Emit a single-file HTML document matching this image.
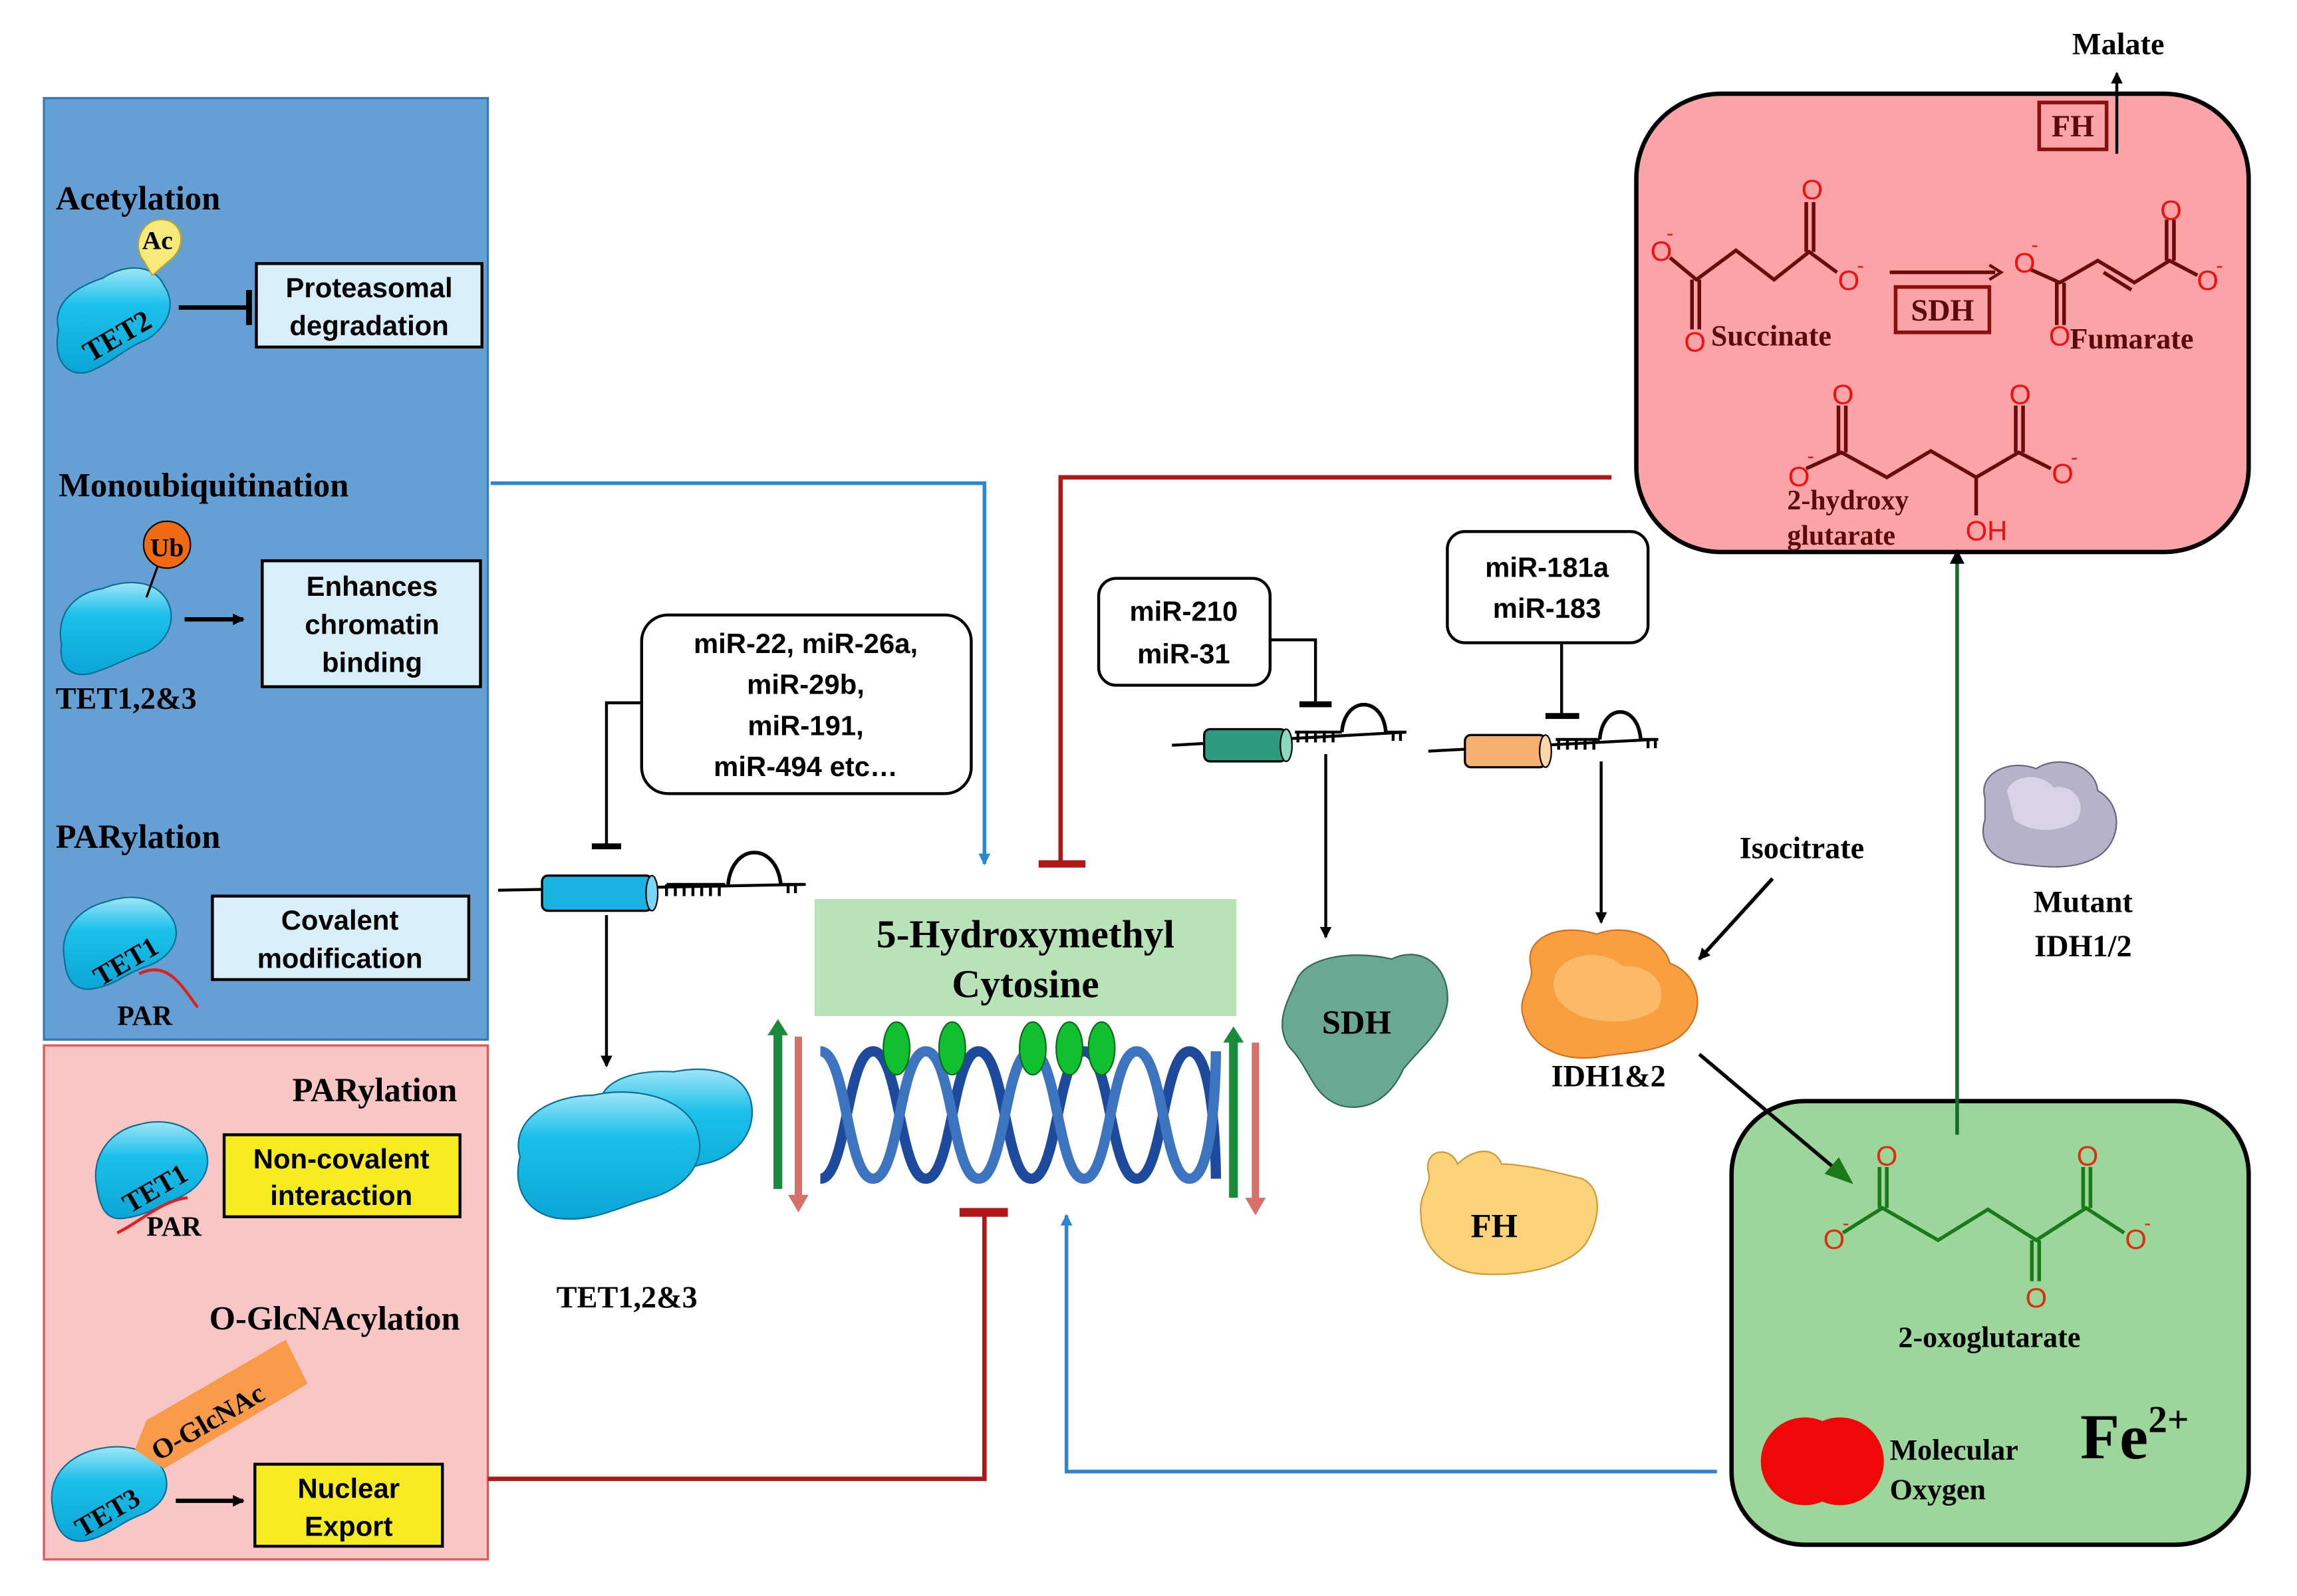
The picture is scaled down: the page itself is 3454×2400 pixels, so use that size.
<!DOCTYPE html>
<html><head><meta charset="utf-8"><style>html,body{margin:0;padding:0;background:#fff}svg{display:block}
.s{font-family:"Liberation Serif",serif;font-weight:bold}
.a{font-family:"Liberation Sans",sans-serif;font-weight:bold}
</style></head><body>
<svg width="3454" height="2400" viewBox="0 0 1568 1090" preserveAspectRatio="none" xmlns="http://www.w3.org/2000/svg">
<defs>
<marker id="ak" markerWidth="8" markerHeight="8" refX="7" refY="4" orient="auto" markerUnits="userSpaceOnUse"><path d="M0,0 L8,4 L0,8Z" fill="#000"/></marker>
<marker id="ab" markerWidth="8" markerHeight="8" refX="7" refY="4" orient="auto" markerUnits="userSpaceOnUse"><path d="M0,0 L8,4 L0,8Z" fill="#2e86d0"/></marker>
<linearGradient id="cy" x1="0" y1="0" x2="0" y2="1"><stop offset="0" stop-color="#9fe6f7"/><stop offset="0.35" stop-color="#1cc0ea"/><stop offset="1" stop-color="#0aa6d6"/></linearGradient>
</defs>

<rect x="30" y="67" width="303" height="643" fill="#64a0d4" stroke="#3a78b5" stroke-width="1.5"/>
<rect x="30" y="714" width="303" height="351" fill="#f8c6c4" stroke="#e05858" stroke-width="1.5"/>
<rect x="1117" y="64" width="418" height="313" rx="58" fill="#fba4a8" stroke="#000" stroke-width="3"/>
<rect x="1182" y="752" width="353" height="303" rx="50" fill="#9cd69b" stroke="#000" stroke-width="3"/>

<polyline points="335,330 672,330 672,590" fill="none" stroke="#2e86d0" stroke-width="2.5" marker-end="url(#ab)"/>
<polyline points="1100,326 724,326 724,590" fill="none" stroke="#b01818" stroke-width="3"/>
<line x1="709" y1="590" x2="741" y2="590" stroke="#b01818" stroke-width="5"/>
<polyline points="333,1010 672,1010 672,828" fill="none" stroke="#b01818" stroke-width="3"/>
<line x1="655" y1="828" x2="688" y2="828" stroke="#b01818" stroke-width="6"/>
<polyline points="1172,1005 728,1005 728,830" fill="none" stroke="#2e86d0" stroke-width="2.5" marker-end="url(#ab)"/>

<text x="38" y="143" class="s" font-size="23">Acetylation</text>
<path d="M40,225 C35,205 55,195 70,190 C85,180 105,180 112,195 C122,210 112,225 100,232 C85,238 80,245 65,252 C50,260 35,250 40,225Z" fill="url(#cy)" stroke="#0a6e96" stroke-width="1"/>
<text x="52" y="238" class="s" font-size="20" transform="rotate(-30 75 225)">TET2</text>
<path d="M98,178 C90,168 96,150 110,150 C124,150 128,166 118,176 L104,188Z" fill="#f5ea7a" stroke="#b8a830"/>
<text x="97" y="170" class="s" font-size="18">Ac</text>
<line x1="122" y1="210" x2="170" y2="210" stroke="#000" stroke-width="3"/>
<line x1="170" y1="198" x2="170" y2="222" stroke="#000" stroke-width="4"/>
<rect x="175" y="180" width="154" height="57" fill="#d8eef8" stroke="#000" stroke-width="2"/>
<text x="252" y="203" class="a" font-size="19" text-anchor="middle">Proteasomal</text>
<text x="252" y="229" class="a" font-size="19" text-anchor="middle">degradation</text>

<text x="40" y="339" class="s" font-size="23">Monoubiquitination</text>
<path d="M42,440 C38,420 50,405 70,402 C85,396 105,395 114,410 C122,425 112,440 100,445 C85,450 78,455 62,460 C48,463 40,455 42,440Z" fill="url(#cy)" stroke="#0a6e96" stroke-width="1"/>
<line x1="100" y1="408" x2="110" y2="380" stroke="#000" stroke-width="1.5"/>
<circle cx="114" cy="372" r="16" fill="#f06a14" stroke="#000"/>
<text x="114" y="380" class="s" font-size="18" text-anchor="middle">Ub</text>
<line x1="126" y1="423" x2="166" y2="423" stroke="#000" stroke-width="3" marker-end="url(#ak)"/>
<rect x="179" y="383" width="149" height="86" fill="#d8eef8" stroke="#000" stroke-width="2"/>
<text x="254" y="407" class="a" font-size="19" text-anchor="middle">Enhances</text>
<text x="254" y="433" class="a" font-size="19" text-anchor="middle">chromatin</text>
<text x="254" y="459" class="a" font-size="19" text-anchor="middle">binding</text>
<text x="38" y="484" class="s" font-size="21">TET1,2&amp;3</text>

<text x="38" y="579" class="s" font-size="23">PARylation</text>
<path d="M44,655 C40,635 55,620 72,616 C90,610 108,612 118,628 C125,642 115,655 100,660 C85,665 80,672 65,675 C50,678 45,668 44,655Z" fill="url(#cy)" stroke="#0a6e96" stroke-width="1"/>
<text x="58" y="665" class="s" font-size="19" transform="rotate(-30 80 650)">TET1</text>
<path d="M95,665 C115,655 125,675 135,688" fill="none" stroke="#e02020" stroke-width="2"/>
<text x="80" y="700" class="s" font-size="19">PAR</text>
<rect x="145" y="612" width="175" height="57" fill="#d8eef8" stroke="#000" stroke-width="2"/>
<text x="232" y="635" class="a" font-size="19" text-anchor="middle">Covalent</text>
<text x="232" y="661" class="a" font-size="19" text-anchor="middle">modification</text>

<text x="312" y="752" class="s" font-size="23" text-anchor="end">PARylation</text>
<path d="M66,810 C62,790 75,772 95,768 C112,763 132,768 140,784 C146,800 135,812 122,818 C108,824 100,830 85,832 C72,834 68,824 66,810Z" fill="url(#cy)" stroke="#0a6e96" stroke-width="1"/>
<text x="78" y="820" class="s" font-size="19" transform="rotate(-30 100 805)">TET1</text>
<path d="M80,842 C95,835 110,820 128,818" fill="none" stroke="#e02020" stroke-width="2"/>
<text x="100" y="844" class="s" font-size="19">PAR</text>
<rect x="153" y="775" width="161" height="56" fill="#f6ea20" stroke="#000" stroke-width="2"/>
<text x="233" y="798" class="a" font-size="19" text-anchor="middle">Non-covalent</text>
<text x="233" y="823" class="a" font-size="19" text-anchor="middle">interaction</text>

<text x="314" y="908" class="s" font-size="23" text-anchor="end">O-GlcNAcylation</text>
<path d="M36,1030 C32,1010 45,995 65,990 C85,985 105,990 112,1005 C118,1020 108,1030 95,1035 C82,1040 75,1048 60,1052 C45,1055 38,1045 36,1030Z" fill="url(#cy)" stroke="#0a6e96" stroke-width="1"/>
<text x="45" y="1040" class="s" font-size="19" transform="rotate(-30 70 1025)">TET3</text>
<path d="M92,990 L100,970 L195,915 L210,945 L112,1003Z" fill="#f89a4a"/>
<text x="108" y="998" class="s" font-size="19" transform="rotate(-30 108 998)">O-GlcNAc</text>
<line x1="120" y1="1025" x2="166" y2="1025" stroke="#000" stroke-width="3" marker-end="url(#ak)"/>
<rect x="174" y="1000" width="128" height="56" fill="#f6ea20" stroke="#000" stroke-width="2"/>
<text x="238" y="1023" class="a" font-size="19" text-anchor="middle">Nuclear</text>
<text x="238" y="1049" class="a" font-size="19" text-anchor="middle">Export</text>

<rect x="438" y="420" width="225" height="122" rx="18" fill="#fff" stroke="#000" stroke-width="2"/>
<text x="550" y="446" class="a" font-size="19" text-anchor="middle">miR-22, miR-26a,</text>
<text x="550" y="474" class="a" font-size="19" text-anchor="middle">miR-29b,</text>
<text x="550" y="502" class="a" font-size="19" text-anchor="middle">miR-191,</text>
<text x="550" y="530" class="a" font-size="19" text-anchor="middle">miR-494 etc…</text>
<polyline points="437,480 414,480 414,578" fill="none" stroke="#000" stroke-width="2"/>
<line x1="404" y1="578" x2="424" y2="578" stroke="#000" stroke-width="4"/>
<line x1="340" y1="608" x2="550" y2="604" stroke="#000" stroke-width="2"/>
<rect x="370" y="598" width="75" height="24" rx="4" fill="#1ab4e4" stroke="#000" stroke-width="1.5"/>
<ellipse cx="445" cy="610" rx="4" ry="12" fill="#7ad6f2" stroke="#000"/>
<path d="M455,604 v8 M461,604 v8 M467,604 v8 M473,604 v8 M479,604 v8 M485,604 v8 M491,604 v8 M455,604 h40" stroke="#000" stroke-width="2" fill="none"/>
<path d="M497,604 C500,575 530,575 533,604" fill="none" stroke="#000" stroke-width="2.5"/>
<path d="M533,604 h15 M538,604 v6 M543,604 v6" stroke="#000" stroke-width="2"/>
<line x1="414" y1="625" x2="414" y2="728" stroke="#000" stroke-width="2" marker-end="url(#ak)"/>

<path d="M410,760 C405,740 430,730 460,732 C480,728 505,730 512,750 C518,770 505,790 480,795 C460,800 445,810 420,812 C400,812 395,790 410,760Z" fill="url(#cy)" stroke="#0a6e96"/>
<path d="M355,790 C348,765 375,748 405,748 C430,742 465,748 475,770 C485,795 465,812 445,818 C420,825 405,835 380,832 C358,828 350,810 355,790Z" fill="url(#cy)" stroke="#0a6e96"/>
<text x="428" y="893" class="s" font-size="21" text-anchor="middle">TET1,2&amp;3</text>

<rect x="556" y="614" width="288" height="80" fill="#b8e2b8"/>
<text x="700" y="647" class="s" font-size="27" text-anchor="middle">5-Hydroxymethyl</text>
<text x="700" y="681" class="s" font-size="27" text-anchor="middle">Cytosine</text>
<path d="M560,805 C578,805 578,718 596,718 S614,805 632,805 S650,718 668,718 S686,805 704,805 S722,718 740,718 S758,805 776,805 S794,718 812,718 S830,805 830,805" fill="none" stroke="#1e4a9e" stroke-width="7"/>
<path d="M560,718 C578,718 578,805 596,805 S614,718 632,718 S650,805 668,805 S686,718 704,718 S722,805 740,805 S758,718 776,718 S794,805 812,805 S830,718 830,718" fill="none" stroke="#3d74c0" stroke-width="7"/>
<g fill="#10c030" stroke="#0a6a1a" stroke-width="1">
<ellipse cx="612" cy="716" rx="9" ry="18"/><ellipse cx="650" cy="716" rx="9" ry="18"/><ellipse cx="705" cy="716" rx="9" ry="18"/><ellipse cx="730" cy="716" rx="9" ry="18"/><ellipse cx="752" cy="716" rx="9" ry="18"/>
</g>
<line x1="531" y1="812" x2="531" y2="705" stroke="#1a8a3a" stroke-width="6"/><path d="M524,707 L531,696 L538,707Z" fill="#1a8a3a"/>
<line x1="545" y1="708" x2="545" y2="818" stroke="#d8706a" stroke-width="5"/><path d="M538,816 L545,828 L552,816Z" fill="#d8706a"/>
<line x1="842" y1="818" x2="842" y2="710" stroke="#1a8a3a" stroke-width="6"/><path d="M835,712 L842,701 L849,712Z" fill="#1a8a3a"/>
<line x1="857" y1="712" x2="857" y2="820" stroke="#d8706a" stroke-width="5"/><path d="M850,818 L857,830 L864,818Z" fill="#d8706a"/>

<rect x="750" y="395" width="117" height="73" rx="12" fill="#fff" stroke="#000" stroke-width="2"/>
<text x="808" y="424" class="a" font-size="19" text-anchor="middle">miR-210</text>
<text x="808" y="453" class="a" font-size="19" text-anchor="middle">miR-31</text>
<polyline points="867,437 898,437 898,480" fill="none" stroke="#000" stroke-width="2"/>
<line x1="887" y1="481" x2="909" y2="481" stroke="#000" stroke-width="4"/>
<line x1="800" y1="509" x2="960" y2="500" stroke="#000" stroke-width="2"/>
<rect x="822" y="498" width="56" height="22" rx="4" fill="#2e9a7e" stroke="#000" stroke-width="1.5"/>
<ellipse cx="878" cy="509" rx="4" ry="11" fill="#8ad8c0" stroke="#000"/>
<path d="M884,500 h32 M886,500 v7 M892,500 v7 M898,500 v7 M904,500 v7 M910,500 v7" stroke="#000" stroke-width="2" fill="none"/>
<path d="M916,500 C918,475 944,475 946,500" fill="none" stroke="#000" stroke-width="2.5"/>
<path d="M946,500 h14 M951,500 v6 M956,500 v6" stroke="#000" stroke-width="2"/>
<line x1="905" y1="515" x2="905" y2="640" stroke="#000" stroke-width="2" marker-end="url(#ak)"/>

<rect x="988" y="363" width="137" height="76" rx="12" fill="#fff" stroke="#000" stroke-width="2"/>
<text x="1056" y="394" class="a" font-size="19" text-anchor="middle">miR-181a</text>
<text x="1056" y="422" class="a" font-size="19" text-anchor="middle">miR-183</text>
<line x1="1066" y1="440" x2="1066" y2="488" stroke="#000" stroke-width="2"/>
<line x1="1055" y1="489" x2="1078" y2="489" stroke="#000" stroke-width="4"/>
<line x1="975" y1="513" x2="1130" y2="505" stroke="#000" stroke-width="2"/>
<rect x="1000" y="502" width="55" height="22" rx="4" fill="#f8b070" stroke="#000" stroke-width="1.5"/>
<ellipse cx="1055" cy="513" rx="4" ry="11" fill="#fcd6a8" stroke="#000"/>
<path d="M1062,505 h30 M1064,505 v7 M1070,505 v7 M1076,505 v7 M1082,505 v7 M1088,505 v7" stroke="#000" stroke-width="2" fill="none"/>
<path d="M1092,505 C1094,480 1118,480 1120,505" fill="none" stroke="#000" stroke-width="2.5"/>
<path d="M1120,505 h12 M1125,505 v6 M1130,505 v6" stroke="#000" stroke-width="2"/>
<line x1="1093" y1="520" x2="1093" y2="630" stroke="#000" stroke-width="2" marker-end="url(#ak)"/>

<path d="M885,670 C890,655 920,648 950,655 C970,645 990,660 988,685 C985,705 970,715 958,730 C950,748 935,760 915,755 C895,748 895,730 880,715 C870,700 878,685 885,670Z" fill="#6aa894" stroke="#2e6a58"/>
<text x="926" y="706" class="s" font-size="23" text-anchor="middle">SDH</text>
<path d="M975,800 C972,785 990,782 995,795 C1005,785 1020,782 1025,795 C1040,795 1060,800 1080,805 C1095,812 1092,835 1082,850 C1070,865 1040,872 1010,870 C985,868 970,850 970,830 C968,815 978,810 975,800Z" fill="#fcd27a" stroke="#d09a30"/>
<text x="1020" y="845" class="s" font-size="23" text-anchor="middle">FH</text>
<path d="M1045,660 C1040,640 1065,630 1090,638 C1110,630 1135,640 1140,658 C1160,665 1165,690 1150,705 C1135,720 1110,718 1090,722 C1065,725 1045,715 1040,695 C1035,680 1048,672 1045,660Z" fill="#f8a040" stroke="#d07020"/>
<path d="M1062,665 C1070,650 1095,648 1108,660 C1125,658 1140,672 1132,688 C1120,700 1090,700 1075,692 C1062,685 1058,675 1062,665Z" fill="#fcc070" opacity="0.8"/>
<text x="1098" y="742" class="s" font-size="21" text-anchor="middle">IDH1&amp;2</text>
<text x="1230" y="586" class="s" font-size="21" text-anchor="middle">Isocitrate</text>
<line x1="1210" y1="600" x2="1160" y2="655" stroke="#000" stroke-width="2.5" marker-end="url(#ak)"/>
<path d="M1355,545 C1350,528 1372,518 1390,525 C1405,515 1430,522 1432,540 C1450,550 1448,575 1432,585 C1415,595 1395,592 1378,590 C1360,588 1350,575 1355,560Z" fill="#b6b2c8" stroke="#6a6680"/>
<path d="M1370,540 C1375,528 1395,528 1402,538 C1415,535 1425,548 1418,560 C1405,570 1385,568 1375,560Z" fill="#d8d4e6"/>
<text x="1422" y="623" class="s" font-size="21" text-anchor="middle">Mutant</text>
<text x="1422" y="653" class="s" font-size="21" text-anchor="middle">IDH1/2</text>

<line x1="1160" y1="720" x2="1262" y2="806" stroke="#000" stroke-width="2.5"/>
<path d="M1262,806 L1248,801 L1255,793Z" fill="#1a7a1a" stroke="#1a7a1a" stroke-width="3"/>
<line x1="1336" y1="775" x2="1336" y2="382" stroke="#1a6a2a" stroke-width="2.5"/>
<path d="M1331,385 L1336,375 L1341,385Z" fill="#000"/>

<g fill="none" stroke="#6a0a0a" stroke-width="2.5">
<polyline points="1140,176 1158,191 1185,171 1211,191 1235,172 1254,186"/>
<line x1="1233" y1="172" x2="1233" y2="138"/><line x1="1238" y1="172" x2="1238" y2="138"/>
<line x1="1155" y1="191" x2="1155" y2="225"/><line x1="1160" y1="191" x2="1160" y2="225"/>
<polyline points="1386,184 1406,193 1432,178 1457,193 1481,178 1500,188"/>
<line x1="1436" y1="186" x2="1455" y2="198"/>
<line x1="1479" y1="178" x2="1479" y2="150"/><line x1="1484" y1="178" x2="1484" y2="150"/>
<line x1="1404" y1="193" x2="1404" y2="222"/><line x1="1409" y1="193" x2="1409" y2="222"/>
<polyline points="1233,320 1257,309 1288,326 1318,308 1349,326 1378,309 1400,320"/>
<line x1="1255" y1="309" x2="1255" y2="277"/><line x1="1260" y1="309" x2="1260" y2="277"/>
<line x1="1376" y1="309" x2="1376" y2="277"/><line x1="1381" y1="309" x2="1381" y2="277"/>
<line x1="1349" y1="326" x2="1349" y2="352"/>
<line x1="1290" y1="186" x2="1362" y2="186"/>
</g>
<path d="M1358,181 L1366,186 L1358,191" fill="none" stroke="#6a0a0a" stroke-width="2"/>
<g fill="#f01010" font-family="Liberation Sans,sans-serif" font-size="19" text-anchor="middle">
<text x="1134" y="178">O</text><text x="1140" y="164" font-size="14">-</text>
<text x="1237" y="136">O</text>
<text x="1262" y="198">O</text><text x="1270" y="186" font-size="14">-</text>
<text x="1157" y="240">O</text>
<text x="1382" y="186">O</text><text x="1389" y="172" font-size="14">-</text>
<text x="1482" y="150">O</text>
<text x="1507" y="198">O</text><text x="1515" y="186" font-size="14">-</text>
<text x="1406" y="236">O</text>
<text x="1228" y="332">O</text><text x="1236" y="316" font-size="14">-</text>
<text x="1258" y="276">O</text><text x="1379" y="276">O</text>
<text x="1408" y="330">O</text><text x="1416" y="317" font-size="14">-</text>
<text x="1356" y="369">OH</text>
</g>
<text x="1168" y="236" class="s" font-size="20" fill="#5a0a0a">Succinate</text>
<text x="1413" y="238" class="s" font-size="20" fill="#5a0a0a">Fumarate</text>
<rect x="1294" y="196" width="64" height="31" fill="none" stroke="#8a1010" stroke-width="2.5"/>
<text x="1326" y="219" class="s" font-size="21" text-anchor="middle" fill="#5a0a0a">SDH</text>
<rect x="1392" y="70" width="46" height="32" fill="none" stroke="#8a1010" stroke-width="2.5"/>
<text x="1415" y="93" class="s" font-size="21" text-anchor="middle" fill="#5a0a0a">FH</text>
<line x1="1445" y1="105" x2="1445" y2="50" stroke="#000" stroke-width="2" marker-end="url(#ak)"/>
<text x="1446" y="37" class="s" font-size="21" text-anchor="middle">Malate</text>
<text x="1220" y="348" class="s" font-size="19" fill="#5a0a0a">2-hydroxy</text>
<text x="1220" y="372" class="s" font-size="19" fill="#5a0a0a">glutarate</text>

<g fill="none" stroke="#1a7a1a" stroke-width="2.5">
<polyline points="1258,842 1285,825 1323,847 1357,826 1390,847 1424,825 1450,842"/>
<line x1="1283" y1="825" x2="1283" y2="797"/><line x1="1288" y1="825" x2="1288" y2="797"/>
<line x1="1422" y1="825" x2="1422" y2="797"/><line x1="1427" y1="825" x2="1427" y2="797"/>
<line x1="1387" y1="847" x2="1387" y2="875"/><line x1="1392" y1="847" x2="1392" y2="875"/>
</g>
<g fill="#d83010" font-family="Liberation Sans,sans-serif" font-size="19" text-anchor="middle">
<text x="1288" y="796">O</text><text x="1425" y="796">O</text>
<text x="1252" y="853">O</text><text x="1260" y="840" font-size="14">-</text>
<text x="1458" y="853">O</text><text x="1466" y="840" font-size="14">-</text>
<text x="1390" y="893">O</text>
</g>
<text x="1358" y="920" class="s" font-size="20" text-anchor="middle">2-oxoglutarate</text>
<circle cx="1232" cy="998" r="30" fill="#f00808"/><circle cx="1256" cy="998" r="30" fill="#f00808"/>
<text x="1290" y="997" class="s" font-size="20">Molecular</text>
<text x="1290" y="1024" class="s" font-size="20">Oxygen</text>
<text x="1420" y="996" class="s" font-size="44">Fe<tspan font-size="26" dy="-18">2+</tspan></text>
</svg>
</body></html>
